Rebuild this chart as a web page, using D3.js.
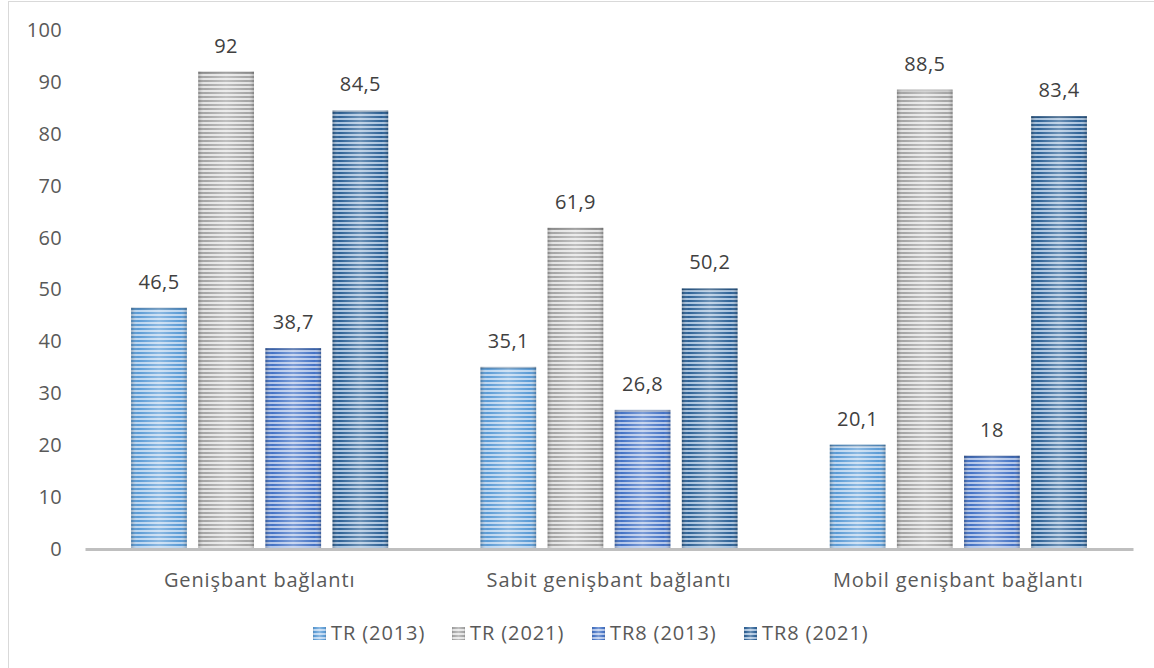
<!DOCTYPE html>
<html><head><meta charset="utf-8">
<script src="https://cdn.jsdelivr.net/npm/d3@7"></script>
<style>html,body{margin:0;padding:0;background:#fff;}svg{display:block;}</style>
</head><body>
<svg id="c" width="1154" height="668"></svg>
<script>
const categories = ["Genişbant bağlantı", "Sabit genişbant bağlantı", "Mobil genişbant bağlantı"];
const seriesNames = ["TR (2013)", "TR (2021)", "TR8 (2013)", "TR8 (2021)"];
const tr2013 = [46.5, 35.1, 20.1];
const tr2021 = [92, 61.9, 88.5];
const tr8_2013 = [38.7, 26.8, 18];
const tr8_2021 = [84.5, 50.2, 83.4];
const yTicks = [0, 10, 20, 30, 40, 50, 60, 70, 80, 90, 100];

const seriesValues = [tr2013, tr2021, tr8_2013, tr8_2021];
const colors = [
  {dark:"#5b9bd5", light:"#bcd6f0"},
  {dark:"#a5a5a5", light:"#e4e4e4"},
  {dark:"#4472c4", light:"#b3c6ea"},
  {dark:"#2e6296", light:"#a9c3de"}
];

const svg = d3.select("#c");
const font = "'Open Sans', sans-serif";

svg.append("rect").attr("x",8.5).attr("y",1.5).attr("width",1160).attr("height",700)
  .attr("fill","none").attr("stroke","#d9d9d9").attr("stroke-width",1);

const defs = svg.append("defs");
colors.forEach((c,i)=>{
  const p = defs.append("pattern").attr("id","pat"+i).attr("patternUnits","userSpaceOnUse")
    .attr("width",8).attr("height",4);
  p.append("rect").attr("width",8).attr("height",4).attr("fill",c.light);
  p.append("rect").attr("y",0).attr("width",8).attr("height",2).attr("fill",c.dark);
});
const g = defs.append("linearGradient").attr("id","shade").attr("x1","0").attr("x2","1").attr("y1","0").attr("y2","0");
g.append("stop").attr("offset","0").attr("stop-color","#000").attr("stop-opacity",0.22);
g.append("stop").attr("offset","0.12").attr("stop-color","#fff").attr("stop-opacity",0.0);
g.append("stop").attr("offset","0.5").attr("stop-color","#fff").attr("stop-opacity",0.3);
g.append("stop").attr("offset","0.88").attr("stop-color","#fff").attr("stop-opacity",0.0);
g.append("stop").attr("offset","1").attr("stop-color","#000").attr("stop-opacity",0.22);

const y = d3.scaleLinear().domain([0,100]).range([549,30]);
const x0 = d3.scaleBand().domain(categories).range([85,1133]).paddingInner(0.264).paddingOuter(0.132);
const x1 = d3.scaleBand().domain(seriesNames).range([0,x0.bandwidth()]).paddingInner(0.17);

const yAxis = d3.axisLeft(y).tickValues(yTicks).tickSize(0).tickPadding(0);
const ya = svg.append("g").attr("transform","translate(62,0)").call(yAxis);
ya.select(".domain").remove();
ya.selectAll("text").attr("font-family",font).attr("font-size",20).attr("fill","#595959").attr("letter-spacing",0.3);

categories.forEach((cat,ci)=>{
  seriesNames.forEach((s,si)=>{
    const v = seriesValues[si][ci];
    const bx = x0(cat)+x1(s), bw = x1.bandwidth(), by = y(v), bh = y(0)-y(v);
    svg.append("rect").attr("x",bx).attr("y",by).attr("width",bw).attr("height",bh).attr("fill","url(#pat"+si+")");
    svg.append("rect").attr("x",bx).attr("y",by).attr("width",bw).attr("height",bh).attr("fill","url(#shade)");
    svg.append("rect").attr("x",bx).attr("y",by).attr("width",bw).attr("height",2).attr("fill","#000").attr("opacity",0.15);
    svg.append("text").attr("x",bx+bw/2).attr("y",by-19).attr("text-anchor","middle")
      .attr("font-family",font).attr("font-size",20).attr("letter-spacing",0.4).attr("fill","#404040").text(String(v).replace(".",","));
  });
});

const xAxis = d3.axisBottom(x0).tickSize(0).tickPadding(24);
const xa = svg.append("g").attr("transform","translate(0,549)").call(xAxis);
xa.select(".domain").attr("stroke","#bfbfbf").attr("stroke-width",3);
xa.selectAll("text").attr("font-family",font).attr("font-size",20).attr("letter-spacing",0.9).attr("fill","#595959");

const legX = [313, 452, 592, 744];
seriesNames.forEach((s,i)=>{
  const lg = svg.append("g").attr("transform",`translate(${legX[i]},627)`);
  lg.append("rect").attr("width",13).attr("height",13).attr("fill","url(#pat"+i+")");
  lg.append("rect").attr("width",13).attr("height",13).attr("fill","url(#shade)");
  lg.append("text").attr("x",18).attr("y",13).attr("font-family",font).attr("font-size",20).attr("letter-spacing",0.9)
    .attr("fill","#595959").text(s);
});
</script>
</body></html>
